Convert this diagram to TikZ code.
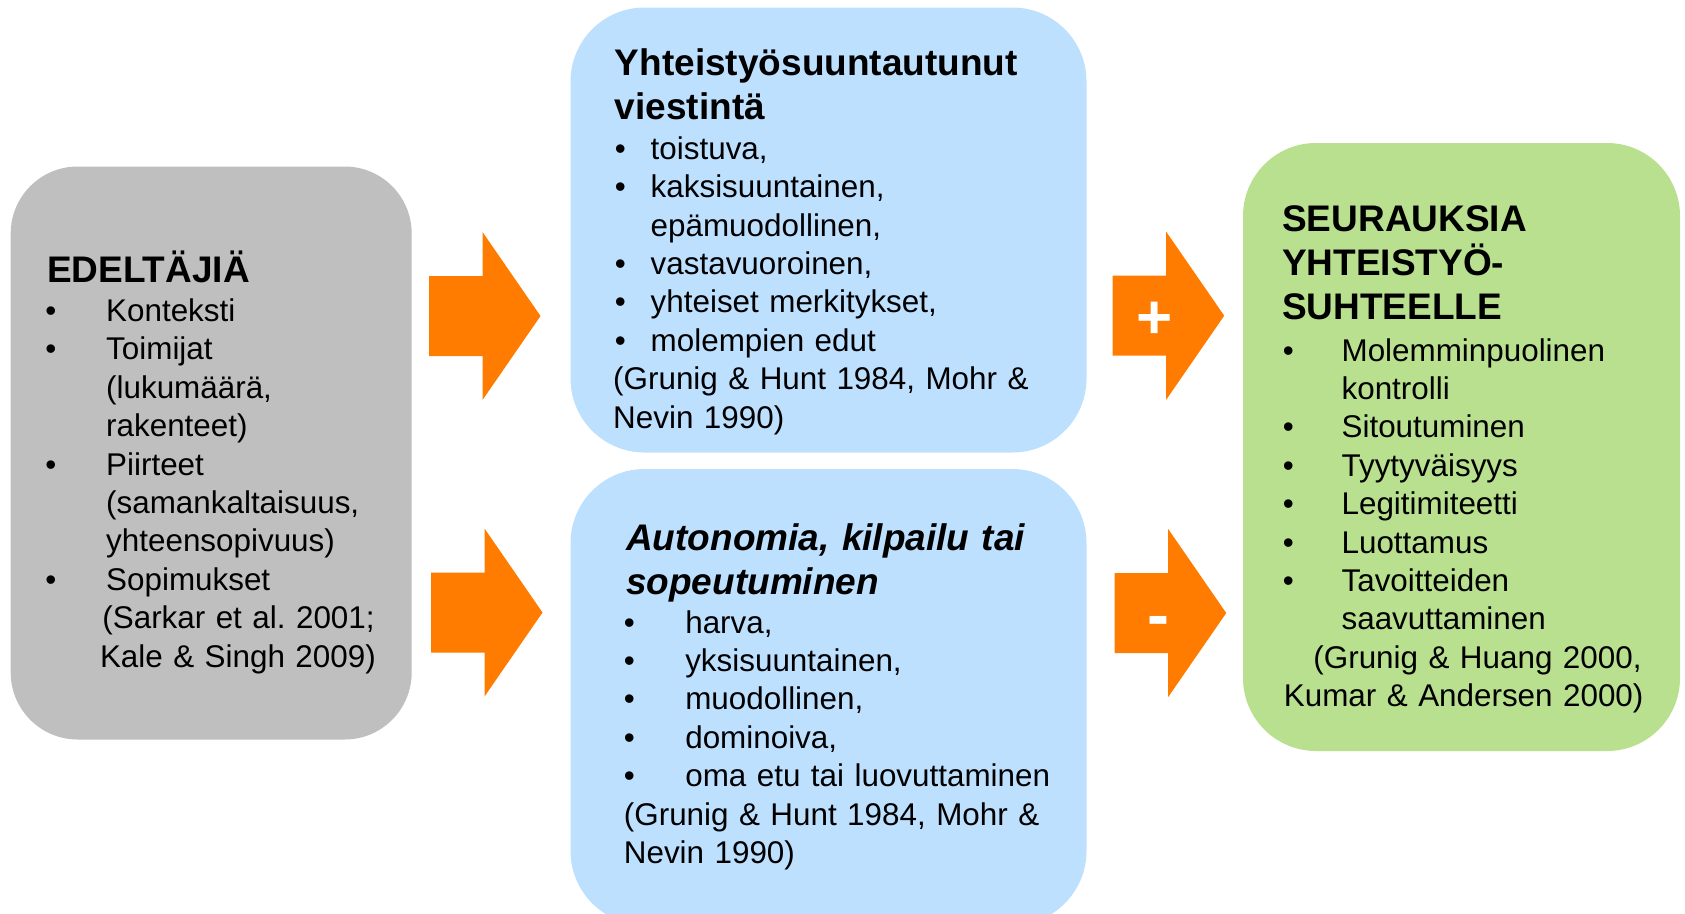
\documentclass[tikz,border=0pt]{standalone}
\usepackage{fontspec}
\setmainfont{Liberation Sans}
\frenchspacing
\newcommand\mybul[1]{\makebox[#1][l]{\textbullet}}
\newcommand\bodysize{\fontsize{31.4}{38.4}\selectfont\frenchspacing}
\newcommand\titlesize{\fontsize{37}{44.4}\selectfont\bfseries}
\definecolor{greyfill}{RGB}{191,191,191}
\definecolor{bluefill}{RGB}{190,224,255}
\definecolor{greenfill}{RGB}{184,224,142}
\definecolor{arroworange}{RGB}{255,124,0}
\tikzset{
  panel/.style={rectangle, draw=none, inner sep=0pt},
  txtbase/.style={inner sep=0pt, anchor=base west, align=left},
  ttl/.style={txtbase, font=\titlesize},
  body/.style={txtbase, font=\bodysize},
  sign/.style={text=white, anchor=base, inner sep=0pt},
  blockarrow/.pic={\fill[arroworange] (0,-40) -- (53.5,-40) -- (53.5,-84) -- (111.5,0) -- (53.5,84) -- (53.5,40) -- (0,40) -- cycle;}
}
\begin{document}
\begin{tikzpicture}[x=1pt,y=-1pt]
\useasboundingbox (0,0) rectangle (1685,913);
\clip (0,0) rectangle (1685,913);

% panels
\node[panel, fill=greyfill, minimum width=401pt, minimum height=573pt, rounded corners=67pt] (grey) at (211.2,453) {};
\node[panel, fill=bluefill, minimum width=516pt, minimum height=445pt, rounded corners=74pt] (blueA) at (828.5,230) {};
\node[panel, fill=bluefill, minimum width=516pt, minimum height=456pt, rounded corners=74pt] (blueB) at (828.5,697) {};
\node[panel, fill=greenfill, minimum width=437pt, minimum height=608pt, rounded corners=73pt] (green) at (1461.5,447) {};

% block arrows
\pic at (429,316) {blockarrow};
\pic at (431,612.5) {blockarrow};
\pic at (1112.7,315.7) {blockarrow};
\pic at (1114.7,613) {blockarrow};
\node[sign, font=\fontsize{62}{70}\selectfont\bfseries] (plus) at (1155,338) {+};
\node[sign, font=\fontsize{66}{74}\selectfont\bfseries] (minus) at (1158,637.5) {-};

% grey panel text
\node[ttl, text width=360pt] (greyT) at (46.8,282) {EDELTÄJIÄ};
\node[body, text width=360pt] (greyB) at (45.2,321.5) {\mybul{60.8pt}Konteksti\\
\mybul{60.8pt}Toimijat\\
\hspace*{60.8pt}(lukumäärä,\\
\hspace*{60.8pt}rakenteet)\\
\mybul{60.8pt}Piirteet\\
\hspace*{60.8pt}(samankaltaisuus,\\
\hspace*{60.8pt}yhteensopivuus)\\
\mybul{60.8pt}Sopimukset\\
\hspace*{57pt}(Sarkar et al. 2001;\\
\hspace*{54.6pt}Kale \& Singh 2009)};

% upper blue panel text
\node[ttl, text width=460pt] (blueAT) at (614.7,75) {Yhteistyösuuntautunut\\viestintä};
\node[body, text width=460pt] (blueAB) at (614.7,159.3) {\mybul{35.8pt}toistuva,\\
\mybul{35.8pt}kaksisuuntainen,\\
\hspace*{35.8pt}epämuodollinen,\\
\mybul{35.8pt}vastavuoroinen,\\
\mybul{35.8pt}yhteiset merkitykset,\\
\mybul{35.8pt}molempien edut\\
\hspace*{-1.7pt}(Grunig \& Hunt 1984, Mohr \&\\
\hspace*{-1.7pt}Nevin 1990)};

% lower blue panel text
\node[ttl, text width=450pt] (blueBT) at (626,550) {\itshape Autonomia, kilpailu tai\\sopeutuminen};
\node[body, text width=450pt] (blueBB) at (623.7,633) {\mybul{61.4pt}harva,\\
\mybul{61.4pt}yksisuuntainen,\\
\mybul{61.4pt}muodollinen,\\
\mybul{61.4pt}dominoiva,\\
\mybul{61.4pt}oma etu tai luovuttaminen\\
(Grunig \& Hunt 1984, Mohr \&\\
Nevin 1990)};

% green panel text
\node[ttl, text width=390pt] (greenT) at (1282,231) {SEURAUKSIA\\YHTEISTYÖ-\\SUHTEELLE};
\node[body, text width=390pt] (greenB) at (1282.7,361) {\mybul{58.7pt}Molemminpuolinen\\
\hspace*{58.7pt}kontrolli\\
\mybul{58.7pt}Sitoutuminen\\
\mybul{58.7pt}Tyytyväisyys\\
\mybul{58.7pt}Legitimiteetti\\
\mybul{58.7pt}Luottamus\\
\mybul{58.7pt}Tavoitteiden\\
\hspace*{58.7pt}saavuttaminen\\
\hspace*{30.5pt}(Grunig \& Huang 2000,\\
\hspace*{1pt}Kumar \& Andersen 2000)};
\end{tikzpicture}
\end{document}
